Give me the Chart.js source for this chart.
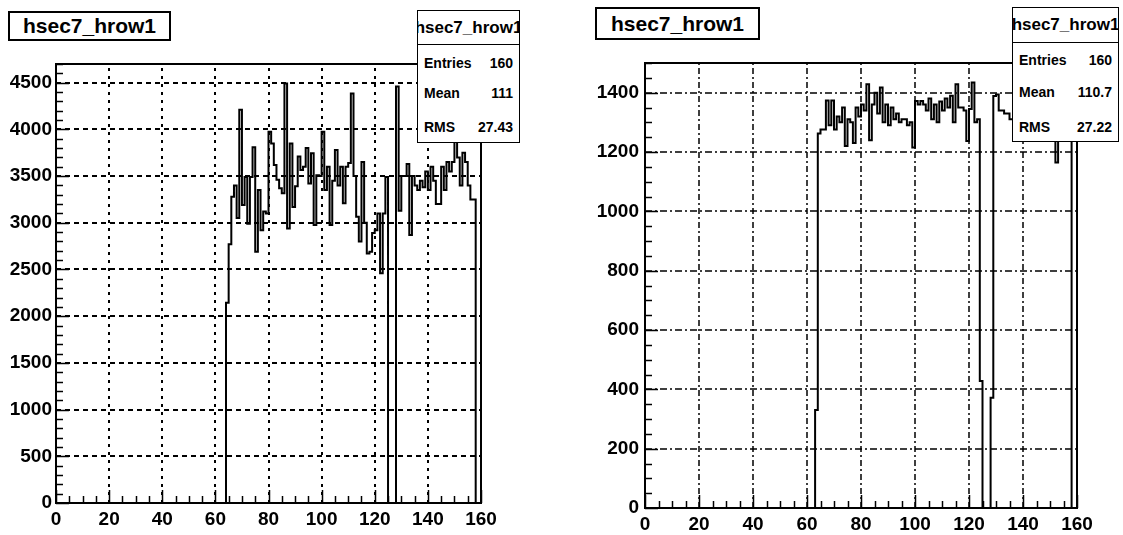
<!DOCTYPE html>
<html>
<head>
<meta charset="utf-8">
<script src="https://cdn.jsdelivr.net/npm/chart.js@4/dist/chart.umd.min.js"></script>
<style>
html, body { margin: 0; padding: 0; background: #fff; }
#wrap { position: relative; width: 1123px; height: 535px; overflow: hidden; font-family: "Liberation Sans", Arial, sans-serif; color: #000; }
canvas { position: absolute; top: 0; }
.title { position: absolute; box-sizing: border-box; border: 2px solid #000; background: #fff; text-align: center; font-size: 21px; font-weight: bold; }
.stats { position: absolute; box-sizing: border-box; border: 1.5px solid #000; background: #fff; font-weight: bold; overflow: hidden; }
.stats .head { position: absolute; left: -6px; right: -6px; top: 0; border-bottom: 1.5px solid #000; white-space: nowrap; text-align: center; font-size: 17px; }
.stats .row { position: absolute; left: 6px; right: 6px; font-size: 14px; }
.stats .row span:last-child { float: right; }
</style>
</head>
<body>
<div id="wrap">
  <canvas id="left" width="560" height="535" style="left:0"></canvas>
  <canvas id="right" width="560" height="535" style="left:563px"></canvas>
</div>
<script>
// histogram name and stat box entries
var histName = 'hsec7_hrow1';
var statNames = ['Entries', 'Mean', 'RMS'];
var leftStats = ['160', '111', '27.43'];
var rightStats = ['160', '110.7', '27.22'];

// tick labels
var xTicks = [0, 20, 40, 60, 80, 100, 120, 140, 160];
var leftYTicks = [0, 500, 1000, 1500, 2000, 2500, 3000, 3500, 4000, 4500];
var rightYTicks = [0, 200, 400, 600, 800, 1000, 1200, 1400];

// bin contents, 160 bins from 0 to 160 (left panel)
var leftCounts = [
  0, 0, 0, 0, 0, 0, 0, 0, 0, 0, 0, 0, 0, 0, 0, 0, 0, 0, 0, 0,
  0, 0, 0, 0, 0, 0, 0, 0, 0, 0, 0, 0, 0, 0, 0, 0, 0, 0, 0, 0,
  0, 0, 0, 0, 0, 0, 0, 0, 0, 0, 0, 0, 0, 0, 0, 0, 0, 0, 0, 0,
  0, 0, 0, 0, 2145, 2770, 3280, 3400, 3050, 4210, 3190, 3490, 2990, 3490, 3810, 2690, 3350, 2920, 3120, 3100,
  3975, 3850, 3620, 3460, 3370, 3315, 4490, 2940, 3850, 3170, 3390, 3710, 3565, 3600, 3800, 3420, 3745, 2975, 3510, 3500,
  3975, 3350, 3600, 2975, 3450, 3780, 3400, 3600, 3210, 3600, 3640, 4385, 3500, 3065, 2800, 3650, 3000, 2670, 2690, 2890,
  2920, 3100, 2460, 3100, 3490, 0, 0, 0, 4460, 3130, 3500, 3500, 3630, 2870, 3500, 3400, 3350, 3450, 3380, 3550,
  3350, 3600, 3450, 3200, 3200, 3600, 3350, 3650, 3550, 3650, 3900, 3700, 3400, 3750, 3650, 3400, 3250, 3250, 0, 0
];

// bin contents, 160 bins from 0 to 160 (right panel)
var rightCounts = [
  0, 0, 0, 0, 0, 0, 0, 0, 0, 0, 0, 0, 0, 0, 0, 0, 0, 0, 0, 0,
  0, 0, 0, 0, 0, 0, 0, 0, 0, 0, 0, 0, 0, 0, 0, 0, 0, 0, 0, 0,
  0, 0, 0, 0, 0, 0, 0, 0, 0, 0, 0, 0, 0, 0, 0, 0, 0, 0, 0, 0,
  0, 0, 0, 330, 1262, 1276, 1276, 1374, 1290, 1374, 1276, 1320, 1300, 1350, 1220, 1310, 1300, 1230, 1350, 1320,
  1360, 1340, 1428, 1240, 1360, 1400, 1330, 1417, 1300, 1360, 1290, 1350, 1310, 1330, 1300, 1310, 1310, 1290, 1300, 1215,
  1372, 1360, 1372, 1360, 1340, 1380, 1310, 1360, 1300, 1370, 1340, 1380, 1350, 1390, 1300, 1428, 1350, 1350, 1340, 1237,
  1345, 1434, 1300, 1310, 428, 0, 0, 0, 372, 1389, 1394, 1340, 1340, 1330, 1330, 1310, 1310, 1290, 1330, 1300,
  1350, 1280, 1320, 1340, 1300, 1360, 1290, 1330, 1310, 1280, 1340, 1250, 1165, 1300, 1320, 1290, 1300, 1280, 0, 0
];

var rootFrame = {
  id: 'rootFrame',
  beforeDatasetsDraw: function(chart, args, opts) {
    var ctx = chart.ctx, a = chart.chartArea, xs = chart.scales.x, ys = chart.scales.y;
    ctx.save();
    ctx.strokeStyle = '#000';
    ctx.lineWidth = opts.gridWidth;
    ctx.setLineDash(opts.vDash);
    xs.ticks.forEach(function(t) {
      if (t.value <= xs.min || t.value >= xs.max) return;
      var x = Math.round(xs.getPixelForValue(t.value));
      ctx.beginPath(); ctx.moveTo(x, a.bottom); ctx.lineTo(x, a.top); ctx.stroke();
    });
    ctx.setLineDash(opts.hDash);
    ys.ticks.forEach(function(t) {
      if (t.value <= ys.min || t.value >= ys.max) return;
      var y = Math.round(ys.getPixelForValue(t.value));
      ctx.beginPath(); ctx.moveTo(a.left, y); ctx.lineTo(a.right, y); ctx.stroke();
    });
    ctx.restore();
  },
  afterDatasetsDraw: function(chart, args, opts) {
    var ctx = chart.ctx, a = chart.chartArea, xs = chart.scales.x, ys = chart.scales.y;
    ctx.save();
    ctx.strokeStyle = '#000';
    ctx.lineWidth = 1.5;
    var v, p, len;
    for (v = xs.min; v <= xs.max; v += opts.xMinor) {
      p = Math.round(xs.getPixelForValue(v)) + 0.5;
      len = (v % opts.xStep === 0) ? opts.major : opts.minor;
      ctx.beginPath(); ctx.moveTo(p, a.bottom); ctx.lineTo(p, a.bottom - len); ctx.stroke();
    }
    for (v = ys.min; v <= ys.max; v += opts.yMinor) {
      p = Math.round(ys.getPixelForValue(v)) + 0.5;
      len = (v % opts.yStep === 0) ? opts.major : opts.minor;
      ctx.beginPath(); ctx.moveTo(a.left, p); ctx.lineTo(a.left + len, p); ctx.stroke();
    }
    ctx.lineWidth = opts.frameWidth;
    ctx.strokeRect(a.left, a.top, a.right - a.left, a.bottom - a.top);
    ctx.restore();
  }
};

function asTicks(list) {
  return list.map(function(v) { return { value: v }; });
}

function makeHist(id, counts, yTicks, o) {
  var pts = counts.map(function(v, i) { return { x: i, y: v }; });
  pts.push({ x: counts.length, y: counts[counts.length - 1] });
  var tickFont = { family: '"Liberation Sans", Arial, sans-serif', size: 19, weight: 'bold' };
  return new Chart(document.getElementById(id), {
    type: 'line',
    data: {
      datasets: [{
        data: pts,
        stepped: 'before',
        borderColor: '#000',
        borderWidth: 2,
        pointRadius: 0,
        fill: false
      }]
    },
    options: {
      responsive: false,
      animation: false,
      events: [],
      layout: { padding: { top: o.top, right: o.right, left: 0, bottom: 0 } },
      plugins: {
        legend: { display: false },
        tooltip: { enabled: false },
        rootFrame: {
          gridWidth: o.gridWidth, hDash: o.hDash, vDash: o.vDash,
          xMinor: 5, xStep: xTicks[1] - xTicks[0], yMinor: o.yMinor, yStep: yTicks[1] - yTicks[0],
          major: 13, minor: 7, frameWidth: 2
        }
      },
      scales: {
        x: {
          type: 'linear', min: xTicks[0], max: xTicks[xTicks.length - 1],
          grid: { display: false, drawTicks: false },
          border: { display: false },
          ticks: { autoSkip: false, maxRotation: 0, color: '#000', font: tickFont, padding: o.xPad,
                   callback: function(v) { return String(v); } },
          afterBuildTicks: function(s) { s.ticks = asTicks(xTicks); },
          afterFit: function(s) { s.height = o.xh; }
        },
        y: {
          type: 'linear', min: 0, max: o.yMax,
          grid: { display: false, drawTicks: false },
          border: { display: false },
          ticks: { autoSkip: false, color: '#000', font: tickFont, padding: o.yPad,
                   callback: function(v) { return String(v); } },
          afterBuildTicks: function(s) { s.ticks = asTicks(yTicks); },
          afterFit: function(s) { s.width = o.yw; }
        }
      }
    },
    plugins: [rootFrame]
  });
}

function addBoxes(titlePos, statPos, values) {
  var wrap = document.getElementById('wrap');
  var t = document.createElement('div');
  t.className = 'title';
  t.textContent = histName;
  t.style.cssText = 'left:' + titlePos[0] + 'px;top:' + titlePos[1] + 'px;width:' + titlePos[2] + 'px;height:' + titlePos[3] + 'px;line-height:' + (titlePos[3] - 4) + 'px;';
  wrap.appendChild(t);

  var s = document.createElement('div');
  s.className = 'stats';
  s.style.cssText = 'left:' + statPos.x + 'px;top:' + statPos.y + 'px;width:' + statPos.w + 'px;height:' + statPos.h + 'px;';
  var head = document.createElement('div');
  head.className = 'head';
  head.textContent = histName;
  head.style.height = statPos.head + 'px';
  head.style.lineHeight = statPos.head + 'px';
  s.appendChild(head);
  statNames.forEach(function(name, i) {
    var r = document.createElement('div');
    r.className = 'row';
    r.style.top = (statPos.rows[i] - statPos.y - 9) + 'px';
    r.innerHTML = '<span>' + name + '</span><span>' + values[i] + '</span>';
    s.appendChild(r);
  });
  wrap.appendChild(s);
}

makeHist('left', leftCounts, leftYTicks, {
  top: 64, right: 79, yw: 56, xh: 32, yMax: 4700, yMinor: 100,
  xPad: 5, yPad: 4, gridWidth: 2, hDash: [5, 4], vDash: [3, 5]
});
makeHist('right', rightCounts, rightYTicks, {
  top: 63, right: 46, yw: 82, xh: 27, yMax: 1500, yMinor: 50,
  xPad: 5, yPad: 6, gridWidth: 1.5, hDash: [7, 3, 2, 3], vDash: [6, 3, 2, 3]
});

addBoxes([8, 11, 163, 30], { x: 417, y: 10, w: 103, h: 133, head: 33, rows: [63, 93, 127] }, leftStats);
addBoxes([595, 7, 165, 33], { x: 1012, y: 7, w: 107, h: 135, head: 34, rows: [60, 92, 127] }, rightStats);
</script>
</body>
</html>
